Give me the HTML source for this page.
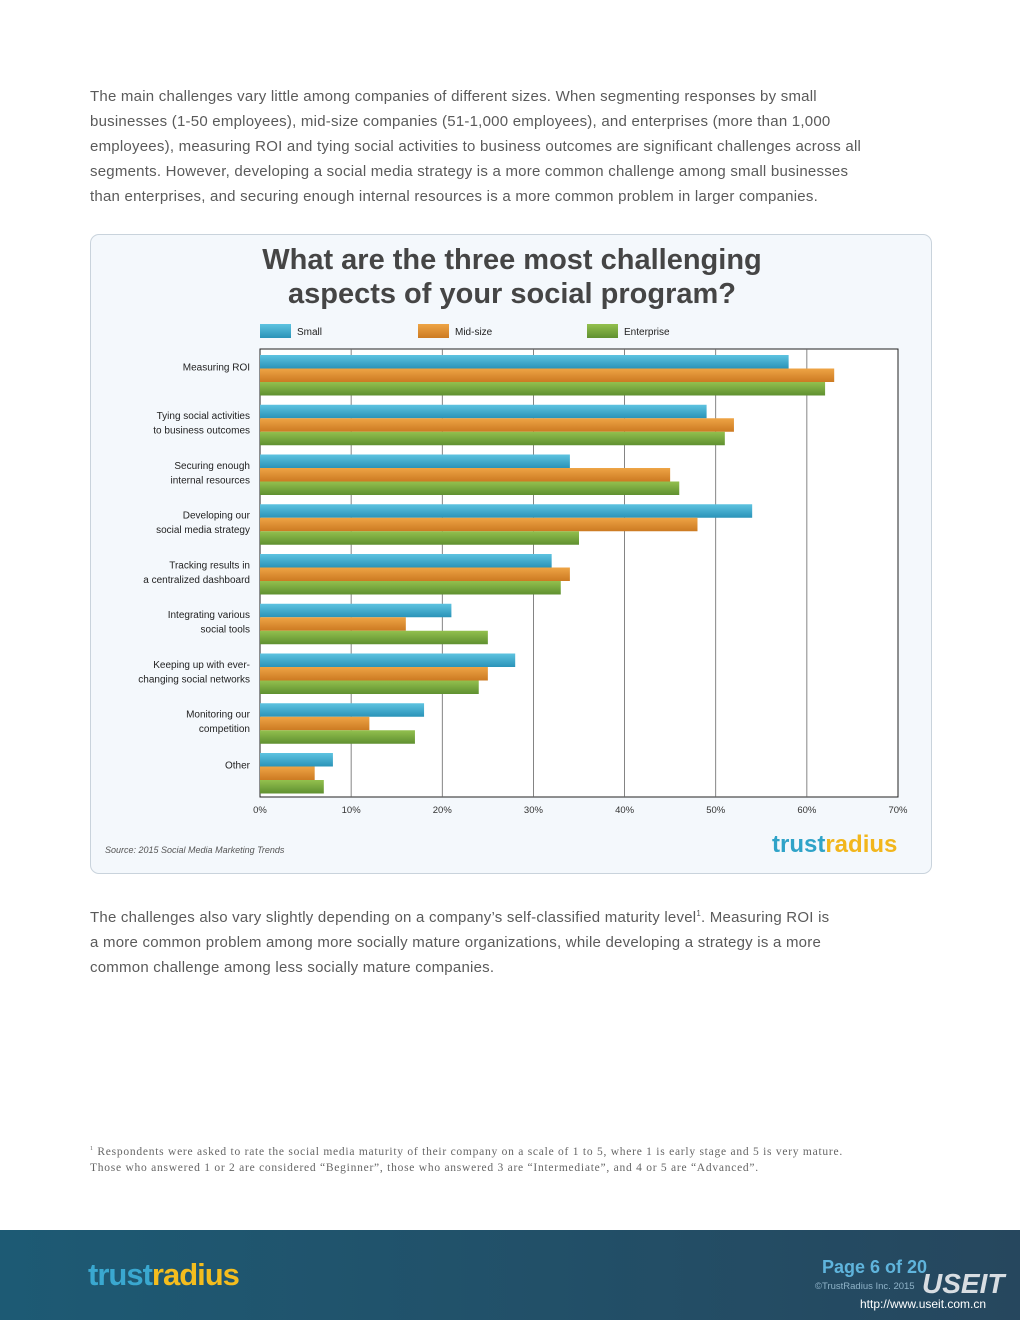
<!DOCTYPE html>
<html><head><meta charset="utf-8"><style>
body{margin:0;width:1020px;height:1320px;position:relative;background:#fff;font-family:"Liberation Sans","DejaVu Sans",sans-serif;overflow:hidden}
.p{position:absolute;left:90px;width:900px;color:#5a5a5a;font-size:15px;letter-spacing:0.23px;line-height:25px;white-space:nowrap}
</style></head><body>
<div class="p" style="top:84px">The main challenges vary little among companies of different sizes. When segmenting responses by small<br>businesses (1-50 employees), mid-size companies (51-1,000 employees), and enterprises (more than 1,000<br>employees), measuring ROI and tying social activities to business outcomes are significant challenges across all<br>segments. However, developing a social media strategy is a more common challenge among small businesses<br>than enterprises, and securing enough internal resources is a more common problem in larger companies.</div>
<div style="position:absolute;left:90px;top:234px;width:840px;height:638px;border:1px solid #c9d3dc;border-radius:9px;background:#f4f8fc"></div>
<svg id="chart" style="position:absolute;left:0;top:0" width="1020" height="900" font-family="Liberation Sans, DejaVu Sans, sans-serif">
<defs>
<linearGradient id="gS" x1="0" y1="0" x2="0" y2="1"><stop offset="0" stop-color="#5ec3e0"/><stop offset="1" stop-color="#2a93b8"/></linearGradient>
<linearGradient id="gM" x1="0" y1="0" x2="0" y2="1"><stop offset="0" stop-color="#eea445"/><stop offset="1" stop-color="#cc7a22"/></linearGradient>
<linearGradient id="gE" x1="0" y1="0" x2="0" y2="1"><stop offset="0" stop-color="#93c04e"/><stop offset="1" stop-color="#5f9030"/></linearGradient>
</defs>
<text x="512" y="269" text-anchor="middle" font-size="29" font-weight="bold" fill="#454545">What are the three most challenging</text>
<text x="512" y="303" text-anchor="middle" font-size="29" font-weight="bold" fill="#454545">aspects of your social program?</text>
<rect x="260" y="349" width="638" height="448" fill="#fff" stroke="#222" stroke-width="1"/>
<g id="grid"></g><g id="bars"></g><g id="labels"></g>
<text x="105" y="853" font-size="9" font-style="italic" fill="#555">Source: 2015 Social Media Marketing Trends</text>
<text x="772" y="852" font-size="24" font-weight="bold" fill="#2fa3c8">trust<tspan fill="#f2b61c">radius</tspan></text>
</svg>
<div class="p" style="top:901px">The challenges also vary slightly depending on a company’s self-classified maturity level<sup style="font-size:8px">1</sup>.  Measuring ROI is<br>a more common problem among more socially mature organizations, while developing a strategy is a more<br>common challenge among less socially mature companies.</div>
<div style="position:absolute;left:90px;top:1141px;width:900px;white-space:nowrap;font-family:'Liberation Serif',serif;font-size:11.5px;letter-spacing:0.75px;line-height:16px;color:#666"><sup style="font-size:6px">1</sup> Respondents were asked to rate the social media maturity of their company on a scale of 1 to 5, where 1 is early stage and 5 is very mature.<br>Those who answered 1 or 2 are considered “Beginner”, those who answered 3 are “Intermediate”, and 4 or 5 are “Advanced”.</div>
<div style="position:absolute;left:0;top:1230px;width:1020px;height:90px;background:linear-gradient(90deg,#1d5a74,#26475e)">
<div style="position:absolute;left:88px;top:27px;font-size:31px;font-weight:bold;color:#3aa8d0;letter-spacing:-1px">trust<span style="color:#f4bd1e">radius</span></div>
<div style="position:absolute;left:822px;top:27px;font-size:18px;font-weight:bold;color:#5fb4dc">Page 6 of 20</div>
<div style="position:absolute;left:815px;top:51px;font-size:9.5px;color:#8fb3c8">©TrustRadius Inc. 2015</div>
<div style="position:absolute;left:922px;top:38px;font-size:28px;font-weight:bold;font-style:italic;color:#d8dde2">USEIT</div>
<div style="position:absolute;left:860px;top:67px;font-size:12px;color:#fff">http://www.useit.com.cn</div>
</div>
<script>
const categories=[["Measuring ROI"],["Tying social activities","to business outcomes"],["Securing enough","internal resources"],["Developing our","social media strategy"],["Tracking results in","a centralized dashboard"],["Integrating various","social tools"],["Keeping up with ever-","changing social networks"],["Monitoring our","competition"],["Other"]];
const small=[58,49,34,54,32,21,28,18,8];
const midsize=[63,52,45,48,34,16,25,12,6];
const enterprise=[62,51,46,35,33,25,24,17,7];
const ticks=[0,10,20,30,40,50,60,70];
const seriesNames=["Small","Mid-size","Enterprise"];
const NS="http://www.w3.org/2000/svg";
const X0=260,W=638,MAX=70,Y0=355,GS=49.75,BH=13.5;
const x=v=>X0+v/MAX*W;
const grid=document.getElementById('grid'),bars=document.getElementById('bars'),lab=document.getElementById('labels');
function mk(t,a,p){const e=document.createElementNS(NS,t);for(const k in a)e.setAttribute(k,a[k]);p.appendChild(e);return e;}
ticks.forEach(t=>{
  if(t>0&&t<MAX){const l=mk('line',{x1:x(t),x2:x(t),y1:349,y2:797,stroke:'#666','stroke-width':0.8},grid);
  
  }
  const tx=mk('text',{x:x(t),y:813,'text-anchor':'middle','font-size':9.5,fill:'#333'},lab);tx.textContent=t+'%';
  
  
});
const series=[small,midsize,enterprise],fills=['url(#gS)','url(#gM)','url(#gE)'];
categories.forEach((c,i)=>{
  const gy=Y0+i*GS;
  series.forEach((s,j)=>{
    const r=mk('rect',{x:X0,y:gy+j*BH,width:x(s[i])-X0,height:BH,fill:fills[j]},bars);
    
    
  });
  const cy=gy+BH*1.5;
  c.forEach((line,k)=>{
    const by=c.length==1?cy-5:cy-6+k*14.5;
    const t=mk('text',{x:250,y:by,'text-anchor':'end','font-size':10,fill:'#222'},lab);
    t.textContent=line;
    
    
  });
});
const lx=[260,418,587];
seriesNames.forEach((n,j)=>{
  const r=mk('rect',{x:lx[j],y:324,width:31,height:14,fill:fills[j]},lab);
  
  
  const t=mk('text',{x:lx[j]+37,y:335,'font-size':10,fill:'#222'},lab);t.textContent=n;
  
  
});
</script>
</body></html>
